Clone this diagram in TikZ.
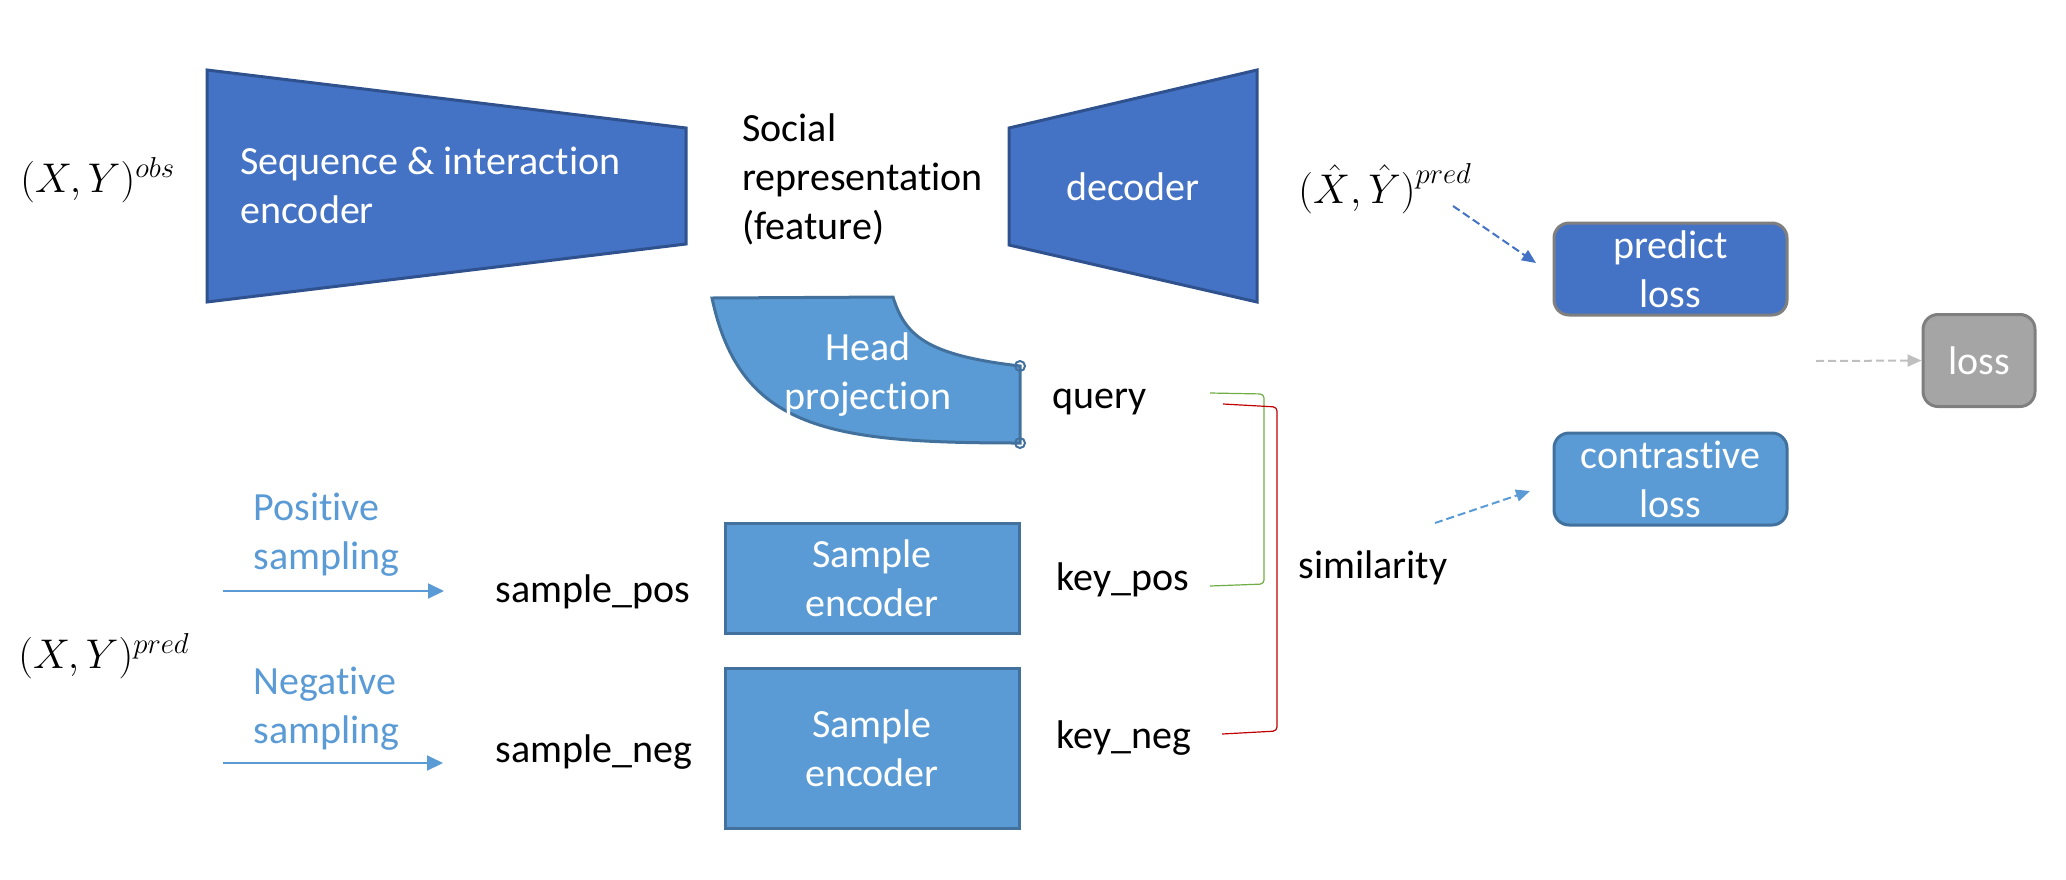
\documentclass[tikz,border=0pt]{standalone}
\usepackage{fontspec}
\setmainfont{Carlito}[Ligatures=NoCommon]
\usetikzlibrary{arrows.meta}
\definecolor{dblue}{HTML}{4472C4}
\definecolor{dblueb}{HTML}{2F528F}
\definecolor{lblue}{HTML}{5B9BD5}
\definecolor{lblueb}{HTML}{41719C}
\definecolor{gfill}{HTML}{A5A5A5}
\definecolor{gbord}{HTML}{7F7F7F}
\definecolor{lgray}{HTML}{BFBFBF}
\definecolor{bgreen}{HTML}{70AD47}
\definecolor{bred}{HTML}{C00000}
\begin{document}
\begin{tikzpicture}[x=0.5pt,y=-0.5pt,
  font=\fontsize{20}{24.5}\selectfont,
  txt/.style={inner sep=0pt, text=black},
  mtxt/.style={inner sep=0pt, text=black, font=\fontsize{22}{26}\selectfont},
  wtxt/.style={inner sep=0pt, text=white, align=center},
  darkshape/.style={fill=dblue, draw=dblueb, line width=1.5pt, line join=miter},
  lightshape/.style={fill=lblue, draw=lblueb, line width=1.5pt},
  lossbox/.style={rounded corners=7.5pt, line width=1.5pt, minimum width=116.5pt, minimum height=46pt, inner sep=0pt, text=white, align=center},
  samparrow/.style={draw=lblue, line width=1pt, -{Triangle[length=8pt,width=7.5pt]}},
  dasharrow/.style={line width=1pt, dash pattern=on 4pt off 2pt, -{Triangle[length=7pt,width=6pt]}},
  bracketline/.style={line width=0.6pt, rounded corners=2pt}]
\useasboundingbox (0,0) rectangle (2066,879);

% encoder
\draw[darkshape] (207,70) -- (686,128) -- (686,244) -- (207,302) -- cycle;
\node[wtxt, align=left, anchor=west] (enc) at (240,185) {Sequence \& interaction\\encoder};

% decoder
\draw[darkshape] (1009,128) -- (1257,70) -- (1257,302) -- (1009,245) -- cycle;
\node[wtxt] (dec) at (1133,187) {decoder};

% social representation
\node[txt, align=left, anchor=west] (soc) at (742,179) {Social\\representation\\(feature)};

% inputs
\node[mtxt, anchor=west] (xyobs) at (20,180) {$(X,Y)^{obs}$};
\node[mtxt, anchor=west] (xypred) at (18,656) {$(X,Y)^{pred}$};
\node[mtxt, anchor=west] (xyhat) at (1298,189) {$\bigl(\hat{X},\hat{Y}\bigr)^{pred}$};

% head projection
\draw[lightshape] (712,298) -- (893,297) .. controls (905,335) and (925,355) .. (1020,366)
   -- (1020,443) .. controls (830,443) and (740,430) .. cycle;
\draw[lblueb, line width=1pt] (1020,366) circle (2.5pt) (1020,443) circle (2.5pt);
\node[wtxt] (head) at (868,375) {Head\\projection};

% sample encoders
\node[lightshape, minimum width=147pt, minimum height=55pt, inner sep=0pt, text=white, align=center] (se1) at (872,578) {Sample\\encoder};
\node[lightshape, minimum width=147pt, minimum height=80pt, inner sep=0pt, text=white, align=center] (se2) at (872,748) {Sample\\encoder};

% labels
\node[txt] (query) at (1100,402) {query};
\node[txt] (keypos) at (1123,580) {key\_pos};
\node[txt] (keyneg) at (1124,738) {key\_neg};
\node[txt] (spos) at (593,592) {sample\_pos};
\node[txt] (sneg) at (594,752) {sample\_neg};
\node[txt] (sim) at (1373,568) {similarity};

% sampling
\node[txt, text=lblue, align=left, anchor=west] (possamp) at (253,535) {Positive\\sampling};
\node[txt, text=lblue, align=left, anchor=west] (negsamp) at (253,709) {Negative\\sampling};
\coordinate (pa) at (223,591);
\coordinate (pb) at (444,591);
\coordinate (na) at (223,763);
\coordinate (nb) at (443,763);
\draw[samparrow] (pa) -- (pb);
\draw[samparrow] (na) -- (nb);

% brackets
\coordinate (g1) at (1210,393);
\coordinate (g2) at (1210,586);
\coordinate (r1) at (1223,404);
\coordinate (r2) at (1222,734);
\draw[bracketline, bgreen] (g1) -- (1264,394) -- (1264,584) -- (g2);
\draw[bracketline, bred] (r1) -- (1277,407) -- (1277,731) -- (r2);

% loss boxes
\node[lossbox, fill=dblue, draw=gbord] (ploss) at (1670.5,269) {predict\\loss};
\node[lossbox, fill=lblue, draw=lblueb] (closs) at (1670.5,479) {contrastive\\loss};
\node[lossbox, fill=gfill, draw=gbord, minimum width=56pt] (loss) at (1979,360.5) {loss};

% dashed arrows
\coordinate (d1a) at (1453,206);
\coordinate (d2a) at (1435,523);
\coordinate (d3a) at (1816,361);
\draw[dasharrow, dblue] (d1a) -- (1536,263);
\draw[dasharrow, lblue] (d2a) -- (1530,491);
\draw[dasharrow, lgray] (d3a) -- (loss.west);
\end{tikzpicture}
\end{document}
